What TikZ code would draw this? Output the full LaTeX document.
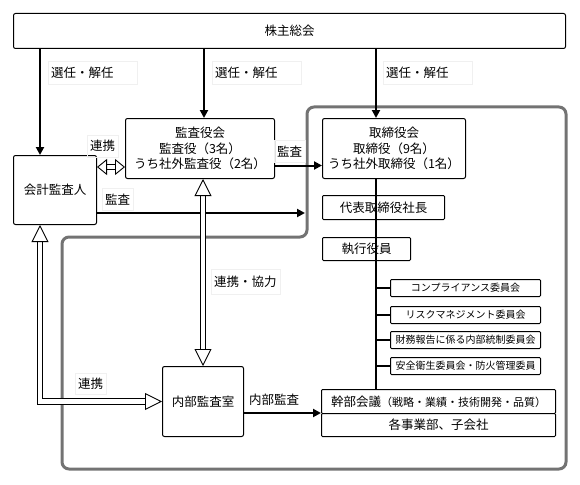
\documentclass[tikz,border=0pt]{standalone}
\usepackage{fontspec}
\setmainfont{Noto Sans CJK JP}
\usetikzlibrary{arrows.meta}
\tikzset{>={Triangle[length=8pt,width=8pt]},
    bigtip/.tip={Triangle[fill=white,length=17pt,width=17pt,line width=0.9pt]},
    smalltip/.tip={Triangle[fill=white,length=10pt,width=16pt,line width=0.9pt]}}
\colorlet{framegray}{black!55}
\colorlet{faint}{black!6}

\begin{document}
\begin{tikzpicture}[x=1pt,y=-1pt,
    box/.style={draw,line width=1pt,rounded corners=2pt,fill=white,align=center,inner sep=0pt,anchor=north west,font=\fontsize{12.5pt}{15.5pt}\selectfont},
    sbox/.style={box,rounded corners=1pt,font=\fontsize{10pt}{12pt}\selectfont,minimum width=150pt,minimum height=17pt},
    lbl/.style={draw=faint,anchor=north west,inner xsep=3pt,inner ysep=0pt,align=left,minimum height=23pt,font=\fontsize{12.5pt}{14pt}\selectfont},
    arr/.style={->,line width=2pt},
    hollow/.style={double=white,double distance=4.5pt,line width=0.9pt,bigtip-bigtip}]
    \useasboundingbox (0,0) rectangle (580,484);
    % company frame
    \draw[framegray,line width=3pt,rounded corners=7pt] (436,107) -- (566,107) -- (566,469) -- (62,469) -- (62,237) -- (307,237) -- (307,107) -- cycle;
    % boxes
    \node[box,minimum width=552pt,minimum height=35pt] (kabu) at (13,13) {株主総会};
    \node[box,minimum width=83pt,minimum height=69pt] (kaikei) at (13,155) {会計監査人};
    \node[box,minimum width=149pt,minimum height=60pt] (kansa) at (125,118) {監査役会\\監査役（3名）\\うち社外監査役（2名）};
    \node[box,minimum width=143pt,minimum height=60pt] (tori) at (322,118) {取締役会\\取締役（9名）\\うち社外取締役（1名）};
    \node[box,rounded corners=1pt,minimum width=122pt,minimum height=24pt] (daihyo) at (322,195) {代表取締役社長};
    \node[box,rounded corners=1pt,minimum width=88pt,minimum height=23pt] (shikko) at (322,237) {執行役員};
    \node[sbox] (c1) at (390,279) {コンプライアンス委員会};
    \node[sbox] (c2) at (390,306) {リスクマネジメント委員会};
    \node[sbox] (c3) at (390,331) {財務報告に係る内部統制委員会};
    \node[sbox] (c4) at (390,357) {安全衛生委員会・防火管理委員};
    \node[box,rounded corners=1pt,minimum width=234pt,minimum height=24pt] (kanbu) at (321,389) {幹部会議{\fontsize{11pt}{13pt}\selectfont（戦略・業績・技術開発・品質）}};
    \node[box,rounded corners=1pt,minimum width=234pt,minimum height=23pt] (jigyo) at (321,413) {各事業部、子会社};
    \node[box,minimum width=81pt,minimum height=70pt] (naibu) at (162,366) {内部監査室};
    % labels
    \node[lbl,text width=83pt] (sen1) at (48,61) {選任・解任};
    \node[lbl,text width=83pt] (sen2) at (212,61) {選任・解任};
    \node[lbl,text width=83pt] (sen3) at (383,61) {選任・解任};
    \node[lbl,minimum height=22pt] (ren1) at (87,135) {連携};
    \node[lbl,minimum height=22pt] (kan1) at (274,140) {監査};
    \node[lbl,minimum height=22pt] (kan2) at (102,188) {監査};
    \node[lbl,minimum height=25pt] (kyo) at (211,269) {連携・協力};
    \node[lbl,minimum height=21pt] (ren2) at (75,373) {連携};
    \node[lbl,draw=none,minimum height=21pt] (nai) at (246,389) {内部監査};
    % helper coordinates
    \coordinate (kx) at (40,0);
    \coordinate (mx) at (204,0);
    \coordinate (spine) at (376,0);
    \coordinate (renkei) at (0,167);
    \coordinate (audit) at (305,213);
    % connectors
    \draw[arr] (kabu.south -| kx) -- (kaikei.north -| kx);
    \draw[arr] (kabu.south -| mx) -- (kansa.north -| mx);
    \draw[arr] (kabu.south -| spine) -- (tori.north -| spine);
    \draw[arr] ([yshift=-17pt]kansa.east) -- ([yshift=-17pt]tori.west);
    \draw[arr] (kaikei.east |- audit) -- (audit);
    \draw[line width=2pt] (tori.south -| spine) -- (kanbu.north -| spine);
    \foreach \c in {c1,c2,c3,c4}
        \draw[line width=1.5pt] (spine |- \c.west) -- (\c.west);
    \draw[arr] (naibu.east |- jigyo.north west) -- (jigyo.north west);
    \draw[double=white,double distance=4.5pt,line width=0.9pt,smalltip-smalltip] (kaikei.east |- renkei) -- (kansa.west |- renkei);
    \draw[hollow] (naibu.north |- kansa.south) -- (naibu.north);
    \draw[hollow] (kaikei.south -| kx) |- (naibu.west);
\end{tikzpicture}
\end{document}
